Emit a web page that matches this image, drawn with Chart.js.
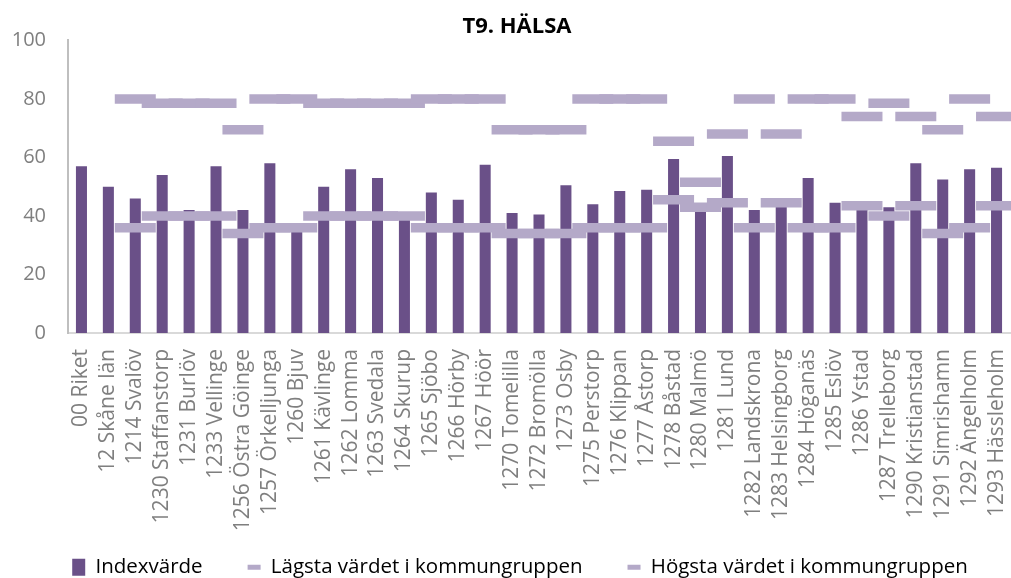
<!DOCTYPE html>
<html>
<head>
<meta charset="utf-8">
<script src="https://cdn.jsdelivr.net/npm/chart.js@4.4.1/dist/chart.umd.min.js"></script>
<style>
  html, body { margin: 0; padding: 0; background: #ffffff; }
  #wrap { width: 1011px; height: 578px; position: relative; }
</style>
</head>
<body>
<div id="wrap"><canvas id="c" width="1011" height="578"></canvas></div>
<script>
const categories = ['00 Riket','12 Skåne län','1214 Svalöv','1230 Staffanstorp','1231 Burlöv','1233 Vellinge','1256 Östra Göinge','1257 Örkelljunga','1260 Bjuv','1261 Kävlinge','1262 Lomma','1263 Svedala','1264 Skurup','1265 Sjöbo','1266 Hörby','1267 Höör','1270 Tomelilla','1272 Bromölla','1273 Osby','1275 Perstorp','1276 Klippan','1277 Åstorp','1278 Båstad','1280 Malmö','1281 Lund','1282 Landskrona','1283 Helsingborg','1284 Höganäs','1285 Eslöv','1286 Ystad','1287 Trelleborg','1290 Kristianstad','1291 Simrishamn','1292 Ängelholm','1293 Hässleholm'];

const indexValues = [57, 50, 46, 54, 42, 57, 42, 58, 35, 50, 56, 53, 39, 48, 45.5, 57.5, 41, 40.5, 50.5, 44, 48.5, 49, 59.5, 42, 60.5, 42, 46, 53, 44.5, 42, 43, 58, 52.5, 56, 56.5];

const lowestValues = [null, null, 36, 40, 40, 40, 34, 36, 36, 40, 40, 40, 40, 36, 36, 36, 34, 34, 34, 36, 36, 36, 45.5, 43, 44.5, 36, 44.5, 36, 36, 43.5, 40, 43.5, 34, 36, 43.5];

const highestValues = [null, null, 80, 78.5, 78.5, 78.5, 69.5, 80, 80, 78.5, 78.5, 78.5, 78.5, 80, 80, 80, 69.5, 69.5, 69.5, 80, 80, 80, 65.5, 51.5, 68, 80, 68, 80, 80, 74, 78.5, 74, 69.5, 80, 74];

const yTicks = [0, 20, 40, 60, 80, 100];

const seriesNames = ['Indexvärde', 'Lägsta värdet i kommungruppen', 'Högsta värdet i kommungruppen'];

const BAR_COLOR = '#6a5088';
const MARK_COLOR = '#b4a9c8';

const markerStyle = {
  type: 'line',
  showLine: false,
  pointStyle: 'line',
  pointRadius: 20.5,
  pointHoverRadius: 20.5,
  pointBorderWidth: 9.5,
  pointHoverBorderWidth: 9.5,
  pointBorderColor: MARK_COLOR,
  pointBackgroundColor: MARK_COLOR,
  borderColor: MARK_COLOR,
  backgroundColor: MARK_COLOR
};

// Lift the legend so the long rotated category labels keep their full box,
// and nudge legend/title horizontally to the reference placement.
const boxNudge = {
  id: 'boxNudge',
  afterLayout(chart) {
    if (chart.legend) {
      chart.legend.top -= 19;
      chart.legend.bottom -= 19;
      chart.legend.left += 10;
      chart.legend.right += 10;
    }
    if (chart.titleBlock) {
      chart.titleBlock.left += 7;
      chart.titleBlock.right += 7;
    }
  }
};

new Chart(document.getElementById('c'), {
  type: 'bar',
  plugins: [boxNudge],
  data: {
    labels: categories,
    datasets: [
      {
        label: seriesNames[0],
        data: indexValues,
        backgroundColor: BAR_COLOR,
        borderWidth: 0,
        barPercentage: 0.41,
        categoryPercentage: 1,
        order: 3
      },
      Object.assign({ label: seriesNames[1], data: lowestValues, order: 2 }, markerStyle),
      Object.assign({ label: seriesNames[2], data: highestValues, order: 1 }, markerStyle)
    ]
  },
  options: {
    responsive: false,
    animation: false,
    devicePixelRatio: 1,
    layout: { autoPadding: false, padding: { left: 10, right: 1, top: 0, bottom: -28.5 } },
    plugins: {
      tooltip: { enabled: false },
      title: {
        display: true,
        text: 'T9. HÄLSA',
        color: '#000000',
        font: { family: 'Open Sans', size: 22, weight: 'bold', lineHeight: 1.2 },
        padding: { top: 14, bottom: 0 }
      },
      legend: {
        position: 'bottom',
        labels: {
          usePointStyle: true,
          pointStyleWidth: 13,
          boxHeight: 17,
          padding: 45,
          color: '#1f1f1f',
          font: { family: 'Open Sans', size: 20.5 },
          generateLabels: function (chart) {
            return [
              { text: seriesNames[0], fillStyle: BAR_COLOR, strokeStyle: BAR_COLOR, lineWidth: 0, pointStyle: 'rect', datasetIndex: 0, hidden: false },
              { text: seriesNames[1], fillStyle: MARK_COLOR, strokeStyle: MARK_COLOR, lineWidth: 5, pointStyle: 'line', datasetIndex: 1, hidden: false },
              { text: seriesNames[2], fillStyle: MARK_COLOR, strokeStyle: MARK_COLOR, lineWidth: 5, pointStyle: 'line', datasetIndex: 2, hidden: false }
            ];
          }
        }
      }
    },
    scales: {
      x: {
        offset: true,
        grid: { display: false, drawTicks: false },
        border: { display: true, color: '#d9d9d9', width: 2 },
        ticks: {
          autoSkip: false,
          minRotation: 90,
          maxRotation: 90,
          padding: 16,
          color: '#7f7f7f',
          font: { family: 'Open Sans', size: 21 }
        },
        afterFit: function (scale) {
          scale.height = 198;
          scale.paddingLeft = 0;
          scale.paddingRight = 0;
        }
      },
      y: {
        min: 0,
        max: 100,
        grid: { display: false, drawTicks: false },
        border: { display: true, color: '#bfbfbf', width: 2 },
        afterBuildTicks: function (scale) { scale.ticks = yTicks.map(v => ({ value: v })); },
        ticks: {
          padding: 22,
          color: '#7f7f7f',
          font: { family: 'Open Sans', size: 20 }
        },
        afterFit: function (scale) { scale.width = 58; }
      }
    }
  }
});
</script>
</body>
</html>
